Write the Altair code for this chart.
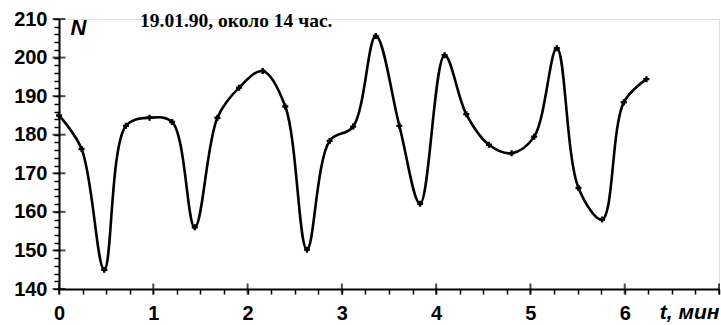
import altair as alt
import pandas as pd

# Measured counts N over time t (minutes)
t_min = [0.00, 0.24, 0.48, 0.71, 0.96, 1.20, 1.44, 1.68, 1.91, 2.16, 2.40, 2.63, 2.87,
         3.12, 3.36, 3.61, 3.83, 4.09, 4.32, 4.56, 4.80, 5.04, 5.28, 5.51, 5.76, 5.99, 6.23]
n_val = [185.0, 176.3, 145.0, 182.3, 184.4, 183.3, 156.0, 184.4, 192.2, 196.5, 187.3, 150.2, 178.4,
         182.1, 205.6, 182.3, 162.1, 200.6, 185.3, 177.4, 175.2, 179.5, 202.4, 166.2, 158.0, 188.4, 194.4]

# Axis tick positions
x_minor = [i * 0.25 for i in range(29)]
x_major = [0, 1, 2, 3, 4, 5, 6, 7]
y_minor = list(range(140, 212, 2))
y_major = list(range(140, 220, 10))

df = pd.DataFrame({"t": t_min, "N": n_val})
xmaj = pd.DataFrame({"t": x_major, "N": [140] * len(x_major)})
ymaj = pd.DataFrame({"t": [0] * len(y_major), "N": y_major})

W, H = 660, 270
LABEL_FONT = "Liberation Sans"

x_scale = alt.Scale(domain=[0, 7], nice=False, zero=False)
y_scale = alt.Scale(domain=[140, 210], nice=False, zero=False)

x_enc = alt.X(
    "t:Q", scale=x_scale,
    axis=alt.Axis(
        values=x_minor, grid=False, tickSize=5, tickWidth=1.5, tickColor="black",
        domainColor="black", domainWidth=2,
        labelExpr="(datum.value % 1 == 0 && datum.value < 7) ? format(datum.value, 'd') : ''",
        labelFont=LABEL_FONT, labelFontSize=20, labelFontWeight="bold", labelColor="black",
        labelPadding=9, labelFlush=False, labelOverlap=False, labelBound=False,
        title="t, мин", titleFont=LABEL_FONT, titleFontSize=21, titleFontWeight="bold",
        titleFontStyle="italic", titleColor="black", titleAnchor="end", titleAlign="right",
        titleX=W, titleY=33, titleBaseline="bottom",
    ),
)
y_enc = alt.Y(
    "N:Q", scale=y_scale,
    axis=alt.Axis(
        values=y_minor, grid=False, tickSize=5, tickWidth=1.5, tickColor="black",
        domainColor="black", domainWidth=2,
        labelExpr="datum.value % 10 == 0 ? format(datum.value, 'd') : ''",
        labelFont=LABEL_FONT, labelFontSize=20, labelFontWeight="bold", labelColor="black",
        labelPadding=7, labelFlush=False, labelOverlap=False, labelBound=False,
        labelBaseline="middle",
        title="N", titleFont=LABEL_FONT, titleFontSize=22, titleFontWeight="bold",
        titleFontStyle="italic", titleColor="black", titleAngle=0, titleAlign="left",
        titleBaseline="top", titleX=11, titleY=-2,
    ),
)

curve = alt.Chart(df).mark_line(
    interpolate="catmull-rom", color="black", strokeWidth=2.6
).encode(x=x_enc, y=y_enc)

pts = alt.Chart(df).mark_point(
    shape="cross", size=36, filled=True, color="black", opacity=1
).encode(x=x_enc, y=y_enc)

# major ticks that cross the axis lines
xt = alt.Chart(xmaj).mark_tick(
    orient="vertical", size=11, thickness=2, color="black"
).encode(x=x_enc, y=y_enc)
yt = alt.Chart(ymaj).mark_tick(
    orient="horizontal", size=13, thickness=2, color="black"
).encode(x=x_enc, y=y_enc)

chart = alt.layer(curve, pts, xt, yt).properties(
    width=W, height=H,
    title=alt.TitleParams(
        "19.01.90, около 14 час.", font="Liberation Serif", fontSize=19.5,
        fontWeight="bold", color="black", anchor="start", frame="group",
        orient="top", baseline="top", dx=81, dy=22, offset=0,
    ),
    autosize=alt.AutoSizeParams(type="none"),
    padding={"left": 59, "top": 19, "right": 2, "bottom": 36},
).configure_view(stroke=None).configure(background="white")

chart.save("out.html", embed_options={"renderer": "svg", "actions": False})
